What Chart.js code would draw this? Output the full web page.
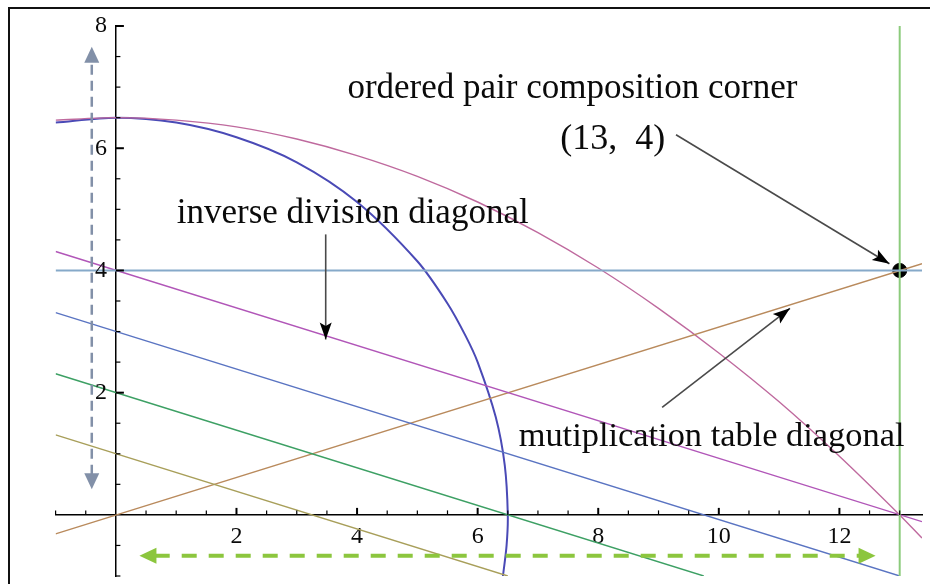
<!DOCTYPE html>
<html>
<head>
<meta charset="utf-8">
<script src="https://cdn.jsdelivr.net/npm/chart.js@4.4.0/dist/chart.umd.min.js"></script>
<style>
  html, body { margin: 0; padding: 0; background: #fff; overflow: hidden; }
  #wrap { position: relative; width: 930px; height: 584px; }
  #frame { position: absolute; left: 8px; top: 7px; width: 1000px; height: 1000px;
           border: 2px solid #111; box-sizing: border-box; }
  canvas { position: absolute; left: 0; top: 0; }
</style>
</head>
<body>
<div id="wrap">
  <canvas id="grid" width="930" height="584"></canvas>
  <div id="frame"></div>
</div>
<script>
// Tick labels
const xTicks = [2, 4, 6, 8, 10, 12];
const yTicks = [2, 4, 6, 8];

// Straight lines, as end points [x, y]
const rowLine = [[-1, 4], [13.37, 4]];
const columnLine = [[13, 8], [13, -1]];
const divisionLine4 = [[-1, 4.31], [13.37, -0.11]];
const divisionLine3 = [[-1, 3.31], [13, -1]];
const divisionLine2 = [[-1, 2.31], [9.75, -1]];
const divisionLine1 = [[-1, 1.31], [6.5, -1]];
const multiplyLine = [[-1, -0.31], [13.37, 4.11]];

// Curves
const arcX = [-1, 0, 1, 2, 3, 4, 5, 5.5, 5.8, 6, 6.3, 6.45, 6.5, 6.48, 6.42];
const arcY = [6.42, 6.5, 6.42, 6.18, 5.77, 5.12, 4.15, 3.46, 2.93, 2.5, 1.6, 0.81, 0, -0.5, -1];
const bowX = [-1, 0, 1, 2, 3, 4, 5, 6, 7, 8, 9, 10, 11, 12, 13, 13.37];
const bowY = [6.46, 6.5, 6.46, 6.35, 6.15, 5.88, 5.54, 5.12, 4.62, 4.04, 3.38, 2.65, 1.85, 0.96, 0, -0.38];

const corner = [13, 4];

// Labels and pointer arrows (data coordinates)
const notes = [
  { text: 'ordered pair composition corner', x: 3.84, y: 6.82, size: 35 },
  { text: '(13,  4)', x: 7.37, y: 5.98, size: 36 },
  { text: 'inverse division diagonal', x: 1.01, y: 4.78, size: 35 },
  { text: 'mutiplication table diagonal', x: 6.68, y: 1.13, size: 34.4 }
];
const pointers = [
  [[3.48, 4.59], [3.48, 2.87]],
  [[9.29, 6.22], [12.83, 4.11]],
  [[9.06, 1.76], [11.18, 3.38]]
];
const spanUp = [[-0.40, 0.42], [-0.40, 7.66]];
const spanRight = [[0.39, -0.67], [12.60, -0.67]];

const pts = arr => arr.map(p => ({ x: p[0], y: p[1] }));
const zip = (xs, ys) => xs.map((x, i) => ({ x: x, y: ys[i] }));

function lineSet(data, color, width, tension) {
  return {
    data: data,
    showLine: true,
    borderColor: color,
    borderWidth: width,
    pointRadius: 0,
    tension: tension || 0,
    fill: false
  };
}

function arrowHead(ctx, x1, y1, x2, y2, len, half, color, notch) {
  const a = Math.atan2(y2 - y1, x2 - x1);
  ctx.save();
  ctx.translate(x2, y2);
  ctx.rotate(a);
  ctx.fillStyle = color;
  ctx.beginPath();
  ctx.moveTo(0, 0);
  ctx.lineTo(-len, -half);
  ctx.lineTo(-len * notch, 0);
  ctx.lineTo(-len, half);
  ctx.closePath();
  ctx.fill();
  ctx.restore();
}

function dashedSpan(ctx, xs, ys, span, dash, width, color, len, half) {
  const ax = xs.getPixelForValue(span[0][0]), ay = ys.getPixelForValue(span[0][1]);
  const bx = xs.getPixelForValue(span[1][0]), by = ys.getPixelForValue(span[1][1]);
  const d = Math.hypot(bx - ax, by - ay);
  const ux = (bx - ax) / d, uy = (by - ay) / d;
  ctx.save();
  ctx.strokeStyle = color;
  ctx.lineWidth = width;
  ctx.setLineDash(dash);
  ctx.beginPath();
  ctx.moveTo(ax + ux * len * 0.9, ay + uy * len * 0.9);
  ctx.lineTo(bx - ux * len * 0.9, by - uy * len * 0.9);
  ctx.stroke();
  ctx.restore();
  arrowHead(ctx, bx - ux, by - uy, bx, by, len, half, color, 1);
  arrowHead(ctx, ax + ux, ay + uy, ax, ay, len, half, color, 1);
}

// keep the crossing axes from pushing the plot area inwards
function noPadding(scale) {
  scale.paddingLeft = 0;
  scale.paddingRight = 0;
  scale.paddingTop = 0;
  scale.paddingBottom = 0;
}

// tick marks pointing into the plot, y labels, notes and arrows
const decorations = {
  id: 'decorations',
  afterDatasetsDraw(chart) {
    const ctx = chart.ctx;
    const xs = chart.scales.x, ys = chart.scales.y;
    const x0 = xs.getPixelForValue(0), y0 = ys.getPixelForValue(0);
    ctx.save();
    ctx.strokeStyle = '#000';
    for (let v = -1; v <= 13.01; v += 0.5) {
      if (Math.abs(v) < 0.01) continue;
      const major = xTicks.includes(v);
      const px = xs.getPixelForValue(v);
      ctx.lineWidth = major ? 2 : 1.2;
      ctx.beginPath();
      ctx.moveTo(px, y0);
      ctx.lineTo(px, y0 - (major ? 7 : 4.5));
      ctx.stroke();
    }
    for (let v = -1; v <= 8.01; v += 0.5) {
      if (Math.abs(v) < 0.01) continue;
      const major = yTicks.includes(v);
      const py = ys.getPixelForValue(v);
      ctx.lineWidth = major ? 2 : 1.2;
      ctx.beginPath();
      ctx.moveTo(x0, py);
      ctx.lineTo(x0 + (major ? 8 : 4.5), py);
      ctx.stroke();
    }
    ctx.fillStyle = '#0a0a0a';
    ctx.font = '24px "Liberation Serif"';
    ctx.textAlign = 'right';
    ctx.textBaseline = 'middle';
    yTicks.forEach(v => ctx.fillText(String(v), x0 - 9, ys.getPixelForValue(v)));
    ctx.restore();

    dashedSpan(ctx, xs, ys, spanUp, [10, 6], 2.5, '#8290a8', 16, 7.5);
    dashedSpan(ctx, xs, ys, spanRight, [15, 12], 4, '#8cc63e', 17, 8);

    pointers.forEach(p => {
      const ax = xs.getPixelForValue(p[0][0]), ay = ys.getPixelForValue(p[0][1]);
      const bx = xs.getPixelForValue(p[1][0]), by = ys.getPixelForValue(p[1][1]);
      ctx.save();
      ctx.strokeStyle = '#4a4a4a';
      ctx.lineWidth = 1.6;
      ctx.beginPath();
      ctx.moveTo(ax, ay);
      ctx.lineTo(bx, by);
      ctx.stroke();
      ctx.restore();
      arrowHead(ctx, ax, ay, bx, by, 17, 6, '#000', 0.8);
    });

    ctx.save();
    ctx.fillStyle = '#0a0a0a';
    ctx.textBaseline = 'alphabetic';
    ctx.textAlign = 'left';
    notes.forEach(n => {
      ctx.font = n.size + 'px "Liberation Serif"';
      ctx.fillText(n.text, xs.getPixelForValue(n.x), ys.getPixelForValue(n.y));
    });
    ctx.restore();
  }
};

const tickFont = { family: 'Liberation Serif', size: 24 };

new Chart(document.getElementById('grid').getContext('2d'), {
  type: 'scatter',
  data: {
    datasets: [
      lineSet(pts(rowLine), '#86a9c9', 2),
      lineSet(pts(columnLine), '#8ccb7c', 2),
      lineSet(pts(divisionLine4), '#b156b8', 1.4),
      lineSet(pts(divisionLine3), '#5a74c2', 1.4),
      lineSet(pts(divisionLine2), '#3da064', 1.4),
      lineSet(pts(divisionLine1), '#a89f5a', 1.4),
      lineSet(pts(multiplyLine), '#b98a5c', 1.4),
      lineSet(zip(bowX, bowY), '#bf6a9e', 1.4, 0.3),
      lineSet(zip(arcX, arcY), '#4a4ab6', 2, 0.3),
      {
        data: [{ x: corner[0], y: corner[1] }],
        pointRadius: 7,
        pointBackgroundColor: '#000',
        pointBorderColor: '#000',
        showLine: false
      }
    ]
  },
  options: {
    responsive: false,
    animation: false,
    layout: { padding: { left: 55.6, right: 0, top: 26, bottom: 6.75 } },
    plugins: { legend: { display: false }, tooltip: { enabled: false } },
    scales: {
      x: {
        type: 'linear',
        min: -1,
        max: 13.37,
        position: { y: 0 },
        grid: { display: false, drawTicks: false },
        border: { display: true, color: '#000', width: 1.5 },
        afterBuildTicks: s => { s.ticks = xTicks.map(v => ({ value: v })); },
        afterFit: noPadding,
        ticks: { font: tickFont, color: '#0a0a0a', padding: 7, maxRotation: 0, autoSkip: false }
      },
      y: {
        type: 'linear',
        min: -1,
        max: 8,
        position: { x: 0 },
        grid: { display: false, drawTicks: false },
        border: { display: true, color: '#000', width: 1.5 },
        afterBuildTicks: s => { s.ticks = yTicks.map(v => ({ value: v })); },
        afterFit: noPadding,
        ticks: { display: false }
      }
    }
  },
  plugins: [decorations]
});
</script>
</body>
</html>
